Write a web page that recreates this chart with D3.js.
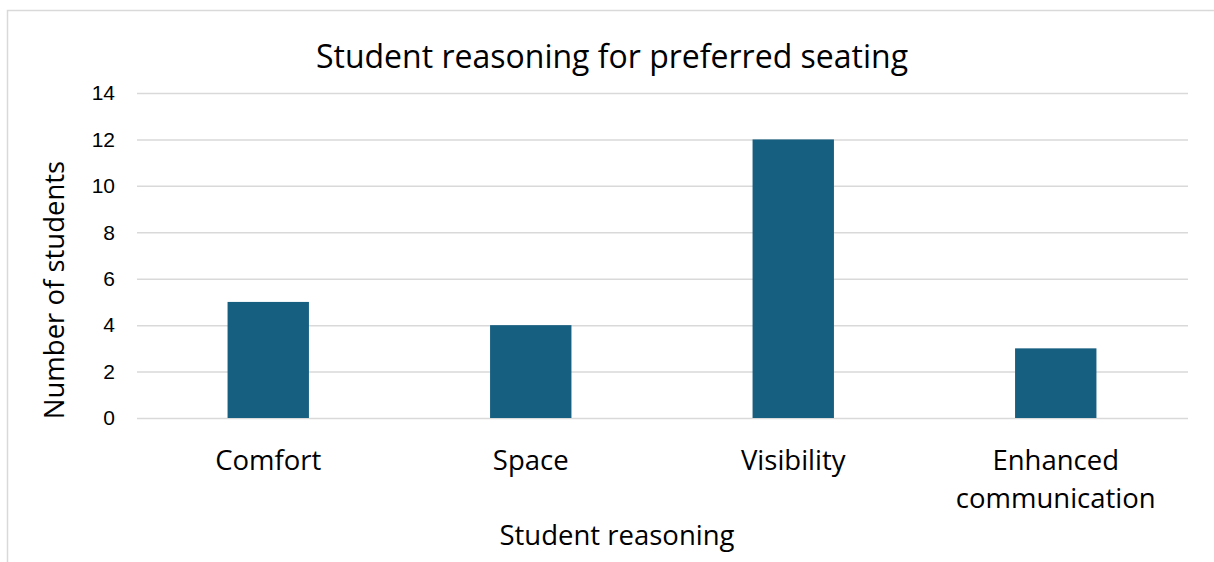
<!DOCTYPE html>
<html>
<head>
<meta charset="utf-8">
<script src="https://cdn.jsdelivr.net/npm/d3@7"></script>
<style>
  body { margin: 0; background: #fff; }
  svg text { fill: #000; }
</style>
</head>
<body>
<div id="chart"></div>
<script>
const categories = ['Comfort', 'Space', 'Visibility', 'Enhanced communication'];
const students = [5, 4, 12, 3];
const yTicks = [0, 2, 4, 6, 8, 10, 12, 14];

const width = 1214;
const height = 562;
const margin = { top: 93, right: 27, bottom: 144, left: 137 };
const labelFont = "'Open Sans', 'Noto Sans', sans-serif";

const svg = d3.select('#chart')
  .append('svg')
  .attr('width', width)
  .attr('height', height);

// chart frame (cut off at right and bottom)
svg.append('rect')
  .attr('x', 7.5)
  .attr('y', 10.5)
  .attr('width', width + 20)
  .attr('height', height + 20)
  .attr('fill', 'none')
  .attr('stroke', '#d9d9d9')
  .attr('stroke-width', 1.5);

const x = d3.scaleBand()
  .domain(categories)
  .range([margin.left, width - margin.right])
  .paddingInner(0.69)
  .paddingOuter(0.345);

const y = d3.scaleLinear()
  .domain([0, 14])
  .range([height - margin.bottom, margin.top]);

// gridlines + tick labels
const yAxis = (g) => g
  .attr('transform', `translate(${margin.left},0)`)
  .call(d3.axisLeft(y).tickValues(yTicks).tickSize(0).tickPadding(22))
  .call((g) => g.select('.domain').remove())
  .call((g) => g.selectAll('.tick line').clone()
    .attr('x2', width - margin.left - margin.right + 1)
    .attr('stroke', '#d9d9d9')
    .attr('stroke-width', 1.5))
  .call((g) => g.selectAll('.tick text')
    .attr('font-family', "'Liberation Sans', Arial, sans-serif")
    .attr('font-size', 21)
    .attr('fill', '#000'));

svg.append('g')
  .classed('y-axis', true)
  .call(yAxis);

svg.append('g')
  .selectAll('rect')
  .data(categories)
  .join('rect')
  .attr('x', (d) => x(d))
  .attr('y', (d, i) => y(students[i]))
  .attr('width', x.bandwidth())
  .attr('height', (d, i) => y(0) - y(students[i]))
  .attr('fill', '#175f80');

// category labels, wrapped by word when needed
const catLabels = svg.append('g')
  .selectAll('text')
  .data(categories)
  .join('text')
  .attr('x', (d) => x(d) + x.bandwidth() / 2)
  .attr('y', 470)
  .attr('text-anchor', 'middle')
  .attr('font-family', labelFont)
  .attr('font-size', 27.5);

catLabels.each(function (d) {
  const words = d.split(' ');
  const t = d3.select(this);
  const cx = x(d) + x.bandwidth() / 2;
  words.forEach((w, i) => {
    t.append('tspan')
      .attr('x', cx)
      .attr('dy', i === 0 ? 0 : 38)
      .text(w);
  });
});

svg.append('text')
  .attr('x', 612)
  .attr('y', 68)
  .attr('text-anchor', 'middle')
  .attr('font-family', labelFont)
  .attr('font-size', 32)
  .text('Student reasoning for preferred seating');

svg.append('text')
  .attr('x', 617)
  .attr('y', 545)
  .attr('text-anchor', 'middle')
  .attr('font-family', labelFont)
  .attr('font-size', 27.5)
  .text('Student reasoning');

svg.append('text')
  .attr('transform', 'translate(64,290) rotate(-90)')
  .attr('text-anchor', 'middle')
  .attr('font-family', labelFont)
  .attr('font-size', 27.5)
  .text('Number of students');
</script>
</body>
</html>
